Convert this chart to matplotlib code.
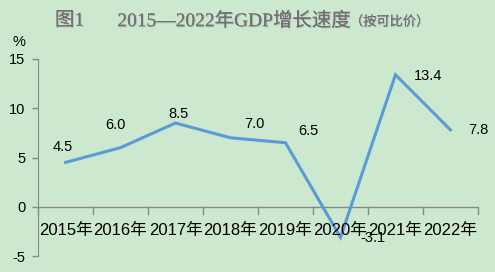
import matplotlib.pyplot as plt
import matplotlib.patheffects as pe

plt.rcParams['font.family'] = ['Noto Sans CJK SC', 'DejaVu Sans']

years = ['2015年', '2016年', '2017年', '2018年', '2019年', '2020年', '2021年', '2022年']
growth = [4.5, 6.0, 8.5, 7.0, 6.5, -3.1, 13.4, 7.8]
yticks = [-5, 0, 5, 10, 15]

# label offsets in pixels (dx, dy up)
offsets = [(-3, 15), (-5, 23), (3, 9), (24, 14), (23, 12), (32, -1), (33, -1), (28, 0)]

bg = '#cce8cf'
num_font = ['Liberation Sans', 'Noto Sans CJK SC']
fig = plt.figure(figsize=(4.95, 2.72), dpi=100, facecolor=bg)
ax = fig.add_axes([38 / 495, 1 - 256 / 272, 440 / 495, 197 / 272])
ax.set_facecolor(bg)

x = range(len(years))
ax.plot(x, growth, color='#5b9bd5', lw=2.2, solid_joinstyle='miter', zorder=2)
for xi, v, (dx, dy) in zip(x, growth, offsets):
    ax.annotate(f'{v:.1f}', (xi, v), xytext=(dx * 0.72, dy * 0.72), textcoords='offset points',
                ha='center', va='center', fontsize=10.5, family=num_font, zorder=4)

ax.set_xlim(-0.5, len(years) - 0.5)
ax.set_ylim(-5, 15)
ax.set_yticks(yticks)
ax.set_yticklabels([str(t) for t in yticks], family=num_font, fontsize=10.5)
ax.tick_params(axis='y', length=4, color='#888888', width=1, pad=5)

for s in ['top', 'right', 'bottom']:
    ax.spines[s].set_visible(False)
ax.spines['left'].set_color('#888888')
ax.axhline(0, color='#888888', lw=1, zorder=1)
ax.set_xticks([])
for b in [i - 0.5 for i in range(len(years) + 1)]:
    ax.plot([b, b], [0, -0.75], color='#888888', lw=1, clip_on=False, zorder=1)
for xi, lab in zip(x, years):
    ax.text(xi, -2.45, lab, ha='center', va='center', fontsize=12, family=num_font, zorder=3)

fig.text(19 / 495, 1 - 42 / 272, '%', ha='center', va='center', fontsize=10.5, family=num_font)

shadow = [pe.withSimplePatchShadow(offset=(0.8, -0.8), shadow_rgbFace='#aaaaaa', alpha=0.5), pe.Normal()]
title_font = ['Liberation Serif', 'Noto Sans CJK SC']
fig.text(55 / 495, 1 - 21 / 272, '图1', ha='left', va='center', fontweight='light',
         fontsize=14, color='#707070', family=title_font, path_effects=shadow)
fig.text(352 / 495, 1 - 21 / 272, '2015—2022年GDP增长速度', ha='right', va='center', fontweight='light',
         fontsize=14, color='#707070', family=title_font, path_effects=shadow)
fig.text(350 / 495, 1 - 22 / 272, '（按可比价）', ha='left', va='center', fontweight='light',
         fontsize=9.5, color='#707070', path_effects=shadow)

fig.savefig('out.png', dpi=100, facecolor=bg)
